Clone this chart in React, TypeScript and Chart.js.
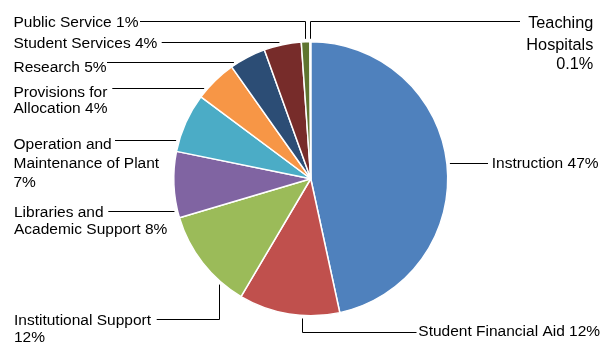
import React, { useEffect, useRef } from "react";
import { Chart, registerables } from "chart.js";

Chart.register(...registerables);

// ---- data ----
const CATEGORIES = [
  "Instruction",
  "Student Financial Aid",
  "Institutional Support",
  "Libraries and Academic Support",
  "Operation and Maintenance of Plant",
  "Provisions for Allocation",
  "Research",
  "Student Services",
  "Public Service",
  "Teaching Hospitals",
];
const VALUES = [46.6, 11.9, 11.9, 7.8, 7.0, 5.0, 4.3, 4.4, 1.0, 0.1];
const LABEL_TEXTS = [
  ["Instruction 47%"],
  ["Student Financial Aid 12%"],
  ["Institutional Support", "12%"],
  ["Libraries and", "Academic Support 8%"],
  ["Operation and", "Maintenance of Plant", "7%"],
  ["Provisions for", "Allocation 4%"],
  ["Research 5%"],
  ["Student Services 4%"],
  ["Public Service 1%"],
  ["Teaching", "Hospitals", "0.1%"],
];
const COLORS = [
  "#4F81BD",
  "#C0504D",
  "#9BBB59",
  "#8064A2",
  "#4BACC6",
  "#F79646",
  "#2C4D75",
  "#772C2A",
  "#5F7530",
  "#4D3B62",
];

// ---- label layout (annotation positions) ----
type LabelLayout = {
  x: number;
  align: "left" | "right";
  baselines: number[];
  lineY: number;
  fromX: number;
  kind: "h" | "elbow";
  frac?: number;
  size?: number;
};
const LABEL_LAYOUT: LabelLayout[] = [
  { x: 491.7, align: "left", baselines: [168.3], lineY: 163.3, fromX: 488, kind: "h" },
  { x: 418.3, align: "left", baselines: [335.7], lineY: 331.7, fromX: 416.5, kind: "elbow", frac: 0.37 },
  { x: 14, align: "left", baselines: [325.3, 342.3], lineY: 319, fromX: 156.7, kind: "elbow", frac: 0.24 },
  { x: 14, align: "left", baselines: [216.7, 234], lineY: 210.7, fromX: 108.3, kind: "h" },
  { x: 13.5, align: "left", baselines: [148.5, 167.5, 186.7], lineY: 140.3, fromX: 115, kind: "h" },
  { x: 13.5, align: "left", baselines: [96.7, 113.3], lineY: 88, fromX: 112.3, kind: "h" },
  { x: 13.5, align: "left", baselines: [72], lineY: 61.7, fromX: 107, kind: "h" },
  { x: 13.5, align: "left", baselines: [48.3], lineY: 42.3, fromX: 161.7, kind: "h" },
  { x: 13.5, align: "left", baselines: [27], lineY: 21, fromX: 140, kind: "elbow", frac: 0.5 },
  { x: 593.3, align: "right", baselines: [28.3, 50, 69.3], lineY: 21, fromX: 520, kind: "elbow", frac: 0.5, size: 16.3 },
];

const FONT_FAMILY = '"Liberation Sans", Arial, sans-serif';
const FONT_SIZE = 15.5;

const labelPlugin = {
  id: "pieLabels",
  afterDraw(chart: any) {
    const meta = chart.getDatasetMeta(0);
    if (!meta || !meta.data.length) return;
    const ctx: CanvasRenderingContext2D = chart.ctx;
    const a0 = meta.data[0] as any;
    const cx = a0.x;
    const cy = a0.y;
    const R = a0.outerRadius + 3;
    ctx.save();
    ctx.strokeStyle = "#000";
    ctx.lineWidth = 1;
    ctx.fillStyle = "#000";
    ctx.textBaseline = "alphabetic";
    const snap = (v: number) => Math.round(v) + 0.5;
    LABEL_LAYOUT.forEach((lay, i) => {
      const arc = meta.data[i] as any;
      ctx.font = `${lay.size ?? FONT_SIZE}px ${FONT_FAMILY}`;
      ctx.textAlign = lay.align;
      LABEL_TEXTS[i].forEach((t, j) => {
        ctx.fillText(t, lay.x, lay.baselines[j]);
      });
      const y = snap(lay.lineY);
      ctx.beginPath();
      if (lay.kind === "h") {
        const dy = lay.lineY - cy;
        const dx = Math.sqrt(Math.max(R * R - dy * dy, 0));
        const endX = lay.fromX < cx ? cx - dx : cx + dx;
        ctx.moveTo(lay.fromX, y);
        ctx.lineTo(endX, y);
      } else {
        const ang =
          arc.startAngle + (lay.frac ?? 0.5) * (arc.endAngle - arc.startAngle);
        const ex = snap(cx + R * Math.cos(ang));
        const ey = cy + R * Math.sin(ang);
        ctx.moveTo(lay.fromX, y);
        ctx.lineTo(ex, y);
        ctx.lineTo(ex, ey);
      }
      ctx.stroke();
    });
    ctx.restore();
  },
};

export default function App() {
  const ref = useRef<HTMLCanvasElement | null>(null);
  useEffect(() => {
    if (!ref.current) return;
    const chart = new Chart(ref.current, {
      type: "pie",
      data: {
        labels: CATEGORIES,
        datasets: [
          {
            data: VALUES,
            backgroundColor: COLORS,
            borderColor: "#FFFFFF",
            borderWidth: 1.5,
            hoverOffset: 0,
            offset: 0,
          },
        ],
      },
      options: {
        responsive: false,
        animation: false,
        events: [],
        layout: { padding: { left: 173, top: 41, right: 153.5, bottom: 26.5 } },
        plugins: {
          legend: { display: false },
          title: { display: false },
          tooltip: { enabled: false },
        },
      },
      plugins: [labelPlugin],
    });
    return () => chart.destroy();
  }, []);
  return (
    <div style={{ position: "absolute", left: 0, top: 0, width: 602, height: 343, background: "#fff" }}>
      <canvas ref={ref} width={602} height={343} style={{ display: "block", width: 602, height: 343 }} />
    </div>
  );
}
